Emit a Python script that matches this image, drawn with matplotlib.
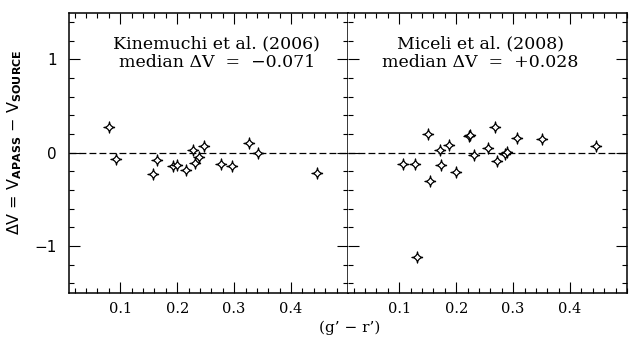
import numpy as np
import matplotlib
matplotlib.use("Agg")
import matplotlib.pyplot as plt
from matplotlib.path import Path
from matplotlib.ticker import MultipleLocator

plt.rcParams["font.family"] = ["DejaVu Serif"]
plt.rcParams["mathtext.fontset"] = "custom"
plt.rcParams["mathtext.bf"] = "DejaVu Sans:bold"
plt.rcParams["mathtext.rm"] = "DejaVu Sans"

# Kinemuchi et al. (2006)
kin_gr = [0.080, 0.092, 0.158, 0.164, 0.193, 0.200, 0.215, 0.228, 0.231,
          0.239, 0.247, 0.277, 0.296, 0.327, 0.342, 0.446]
kin_dv = [0.27, -0.066, -0.23, -0.073, -0.14, -0.127, -0.19, 0.027, -0.11,
          -0.045, 0.073, -0.12, -0.145, 0.10, 0.0, -0.22]

# Miceli et al. (2008)
mic_gr = [0.107, 0.127, 0.131, 0.150, 0.154, 0.171, 0.174, 0.188, 0.200, 0.222,
          0.225, 0.231, 0.256, 0.268, 0.271, 0.286, 0.289, 0.307, 0.351, 0.446]
mic_dv = [-0.123, -0.123, -1.12, 0.198, -0.305, 0.027, -0.137, 0.08, -0.205, 0.177,
          0.188, -0.023, 0.048, 0.27, -0.09, -0.01, 0.01, 0.16, 0.145, 0.073]

panels = [
    ("Kinemuchi et al. (2006)", "median \u0394V  =  \u22120.071", kin_gr, kin_dv, 0.53),
    ("Miceli et al. (2008)", "median \u0394V  =  +0.028", mic_gr, mic_dv, 0.475),
]

# four-pointed star marker with concave sides
t = np.linspace(0, 2 * np.pi, 161)
k = 3.4
sx = np.sign(np.cos(t)) * np.abs(np.cos(t)) ** k
sy = np.sign(np.sin(t)) * np.abs(np.sin(t)) ** k
star = Path(np.column_stack([sx, sy]))

W, H = 629, 346
fig = plt.figure(figsize=(W / 100, H / 100), dpi=100)
boxes = [(69, 279), (348, 279)]
axes = []
for (x0, w), (l1, l2, gx, dv, tx) in zip(boxes, panels):
    ax = fig.add_axes([x0 / W, (H - 292.7) / H, w / W, 280 / H])
    ax.plot(gx, dv, linestyle="none", marker=star, markersize=8,
            markerfacecolor="white", markeredgecolor="black", markeredgewidth=0.9)
    ax.axhline(0, color="black", lw=0.9, dashes=(5.5, 2.5), zorder=0)
    ax.set_xlim(0.01, 0.5)
    ax.set_ylim(-1.5, 1.5)
    ax.xaxis.set_major_locator(MultipleLocator(0.1))
    ax.xaxis.set_minor_locator(MultipleLocator(0.02))
    ax.yaxis.set_major_locator(MultipleLocator(1))
    ax.yaxis.set_minor_locator(MultipleLocator(0.2))
    ax.tick_params(which="both", direction="in", top=True, right=True, width=0.8)
    ax.tick_params(which="major", length=8)
    ax.tick_params(which="minor", length=3.5)
    ax.tick_params(axis="x", labelsize=10.5, pad=7)
    ax.set_xticks([0.1, 0.2, 0.3, 0.4])
    ax.set_xticklabels(["0.1", "0.2", "0.3", "0.4"])
    for s in ax.spines.values():
        s.set_linewidth(1.1)
    ax.text(tx, 0.855, l1 + "\n" + l2, transform=ax.transAxes, ha="center",
            va="center", fontsize=12.5, linespacing=1.1)
    axes.append(ax)

axes[0].tick_params(axis="y", labelsize=11, pad=9)
axes[0].set_yticks([-1, 0, 1])
axes[0].set_yticklabels(["\u22121", "0", "1"], family="DejaVu Sans")
axes[1].set_yticklabels([])
axes[1].spines["left"].set_visible(False)

fig.text(15 / W, 1 - 142 / H,
         "\u0394V = V$_{\\bf APASS}$ \u2212 V$_{\\bf SOURCE}$",
         rotation=90, ha="center", va="center", fontsize=11.5, family="DejaVu Sans")
fig.text(350 / W, 1 - 328 / H, "(g\u2019 \u2212 r\u2019)", ha="center", va="center",
         fontsize=11)

fig.savefig("out.png", dpi=100, facecolor="white")
